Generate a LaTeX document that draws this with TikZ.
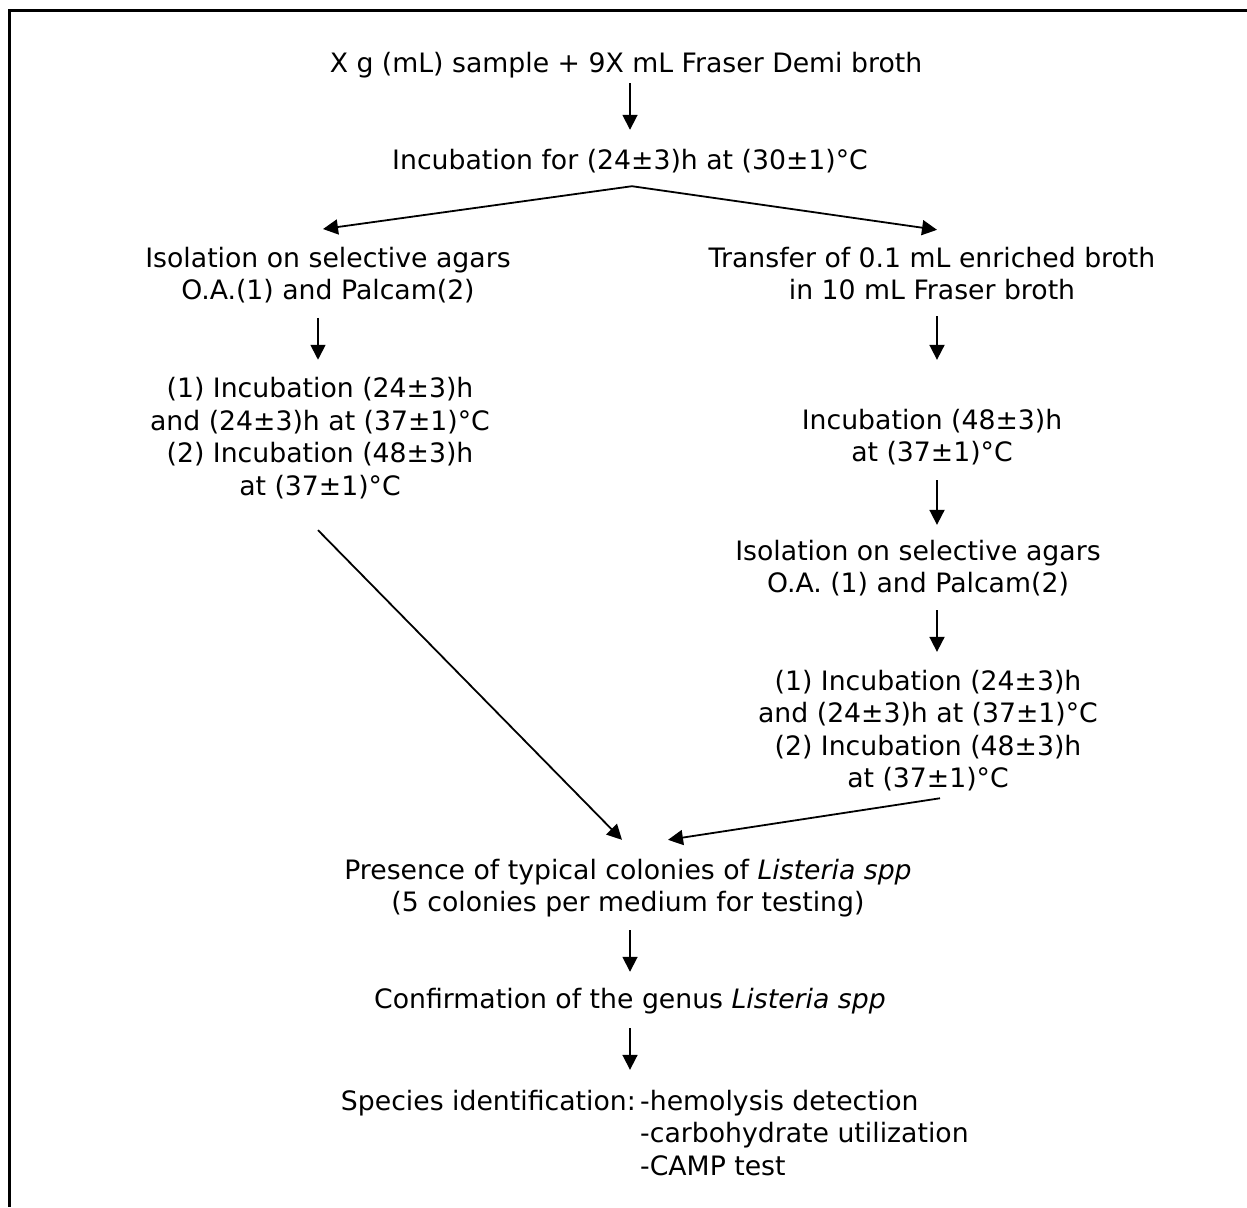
\documentclass[tikz,border=0pt]{standalone}
\usepackage{fontspec}
\setmainfont{DejaVu Sans}
\usetikzlibrary{positioning, calc, arrows.meta}

\begin{document}
\begin{tikzpicture}[x=1pt, y=-1pt,
    stage/.style={align=center, inner sep=0pt,
      font=\fontsize{26.7}{32.5}\selectfont},
    flow/.style={->, line width=1.8pt}, >={Triangle[length=15pt,width=15pt]}]

  \useasboundingbox (0,0) rectangle (1247,1207);
  \draw[line width=3pt] (1247,11) -- (9.5,11) -- (9.5,1207);

  % columns the arrows run in
  \coordinate (colM) at (630,0);
  \coordinate (colL) at (318,0);
  \coordinate (colR) at (937,0);

  \node[stage] (sample) at (626,65.6) {X g (mL) sample + 9X mL Fraser Demi broth};
  \node[stage] (incub) at (630,161.6) {Incubation for (24±3)h at (30±1)°C};

  \node[stage] (isoL) at (328,275.1) {Isolation on selective agars\\O.A.(1) and Palcam(2)};
  \node[stage] (incL) at (320,438.3) {(1) Incubation (24±3)h\\and (24±3)h at (37±1)°C\\(2) Incubation (48±3)h\\at (37±1)°C};

  \node[stage] (trans) at (932,273.3) {Transfer of 0.1 mL enriched broth\\in 10 mL Fraser broth};
  \node[stage] (incR) at (932,436.9) {Incubation (48±3)h\\at (37±1)°C};
  \node[stage] (isoR) at (918,567.9) {Isolation on selective agars\\O.A. (1) and Palcam(2)};
  \node[stage] (incR2) at (928,730.4) {(1) Incubation (24±3)h\\and (24±3)h at (37±1)°C\\(2) Incubation (48±3)h\\at (37±1)°C};

  \node[stage] (pres) at (628,887.9) {Presence of typical colonies of \textit{Listeria spp}\\(5 colonies per medium for testing)};
  \node[stage] (conf) at (630,1001.6) {Confirmation of the genus \textit{Listeria spp}};
  \node[stage, anchor=base east] (spec) at (636,1110) {Species identification:};
  \node[stage, align=left, anchor=north west] (tests) at (640,1089.7) {-hemolysis detection\\-carbohydrate utilization\\-CAMP test};

  \draw[flow, shorten <=4.5pt, shorten >=19.7pt] (sample.south -| colM) -- (incub.north -| colM);
  \draw[flow] ([xshift=2pt,yshift=-12.5pt]incub.south) -- ([xshift=-5pt,yshift=17.7pt]isoL.north);
  \draw[flow] ([xshift=2pt,yshift=-12.5pt]incub.south) -- ([xshift=5pt,yshift=16.7pt]trans.north);
  \draw[flow, shorten <=14.5pt, shorten >=17.7pt] (isoL.south -| colL) -- (incL.north -| colL);
  \draw[flow, shorten <=16pt, shorten >=48.7pt] (trans.south -| colR) -- (incR.north -| colR);
  \draw[flow, shorten <=15pt, shorten >=14.7pt] (incR.south -| colR) -- (isoR.north -| colR);
  \draw[flow, shorten <=14pt, shorten >=17.7pt] (isoR.south -| colR) -- (incR2.north -| colR);
  \draw[flow] ([xshift=-2pt,yshift=-31pt]incL.south) -- ([xshift=-6pt,yshift=18.7pt]pres.north);
  \draw[flow] ([xshift=12pt,yshift=-7pt]incR2.south) -- ([xshift=40pt,yshift=18.7pt]pres.north);
  \draw[flow, shorten <=13pt, shorten >=16.7pt] (pres.south -| colM) -- (conf.north -| colM);
  \draw[flow, shorten <=13.5pt, shorten >=19.7pt] (conf.south -| colM) -- (spec.north -| colM);
\end{tikzpicture}
\end{document}
